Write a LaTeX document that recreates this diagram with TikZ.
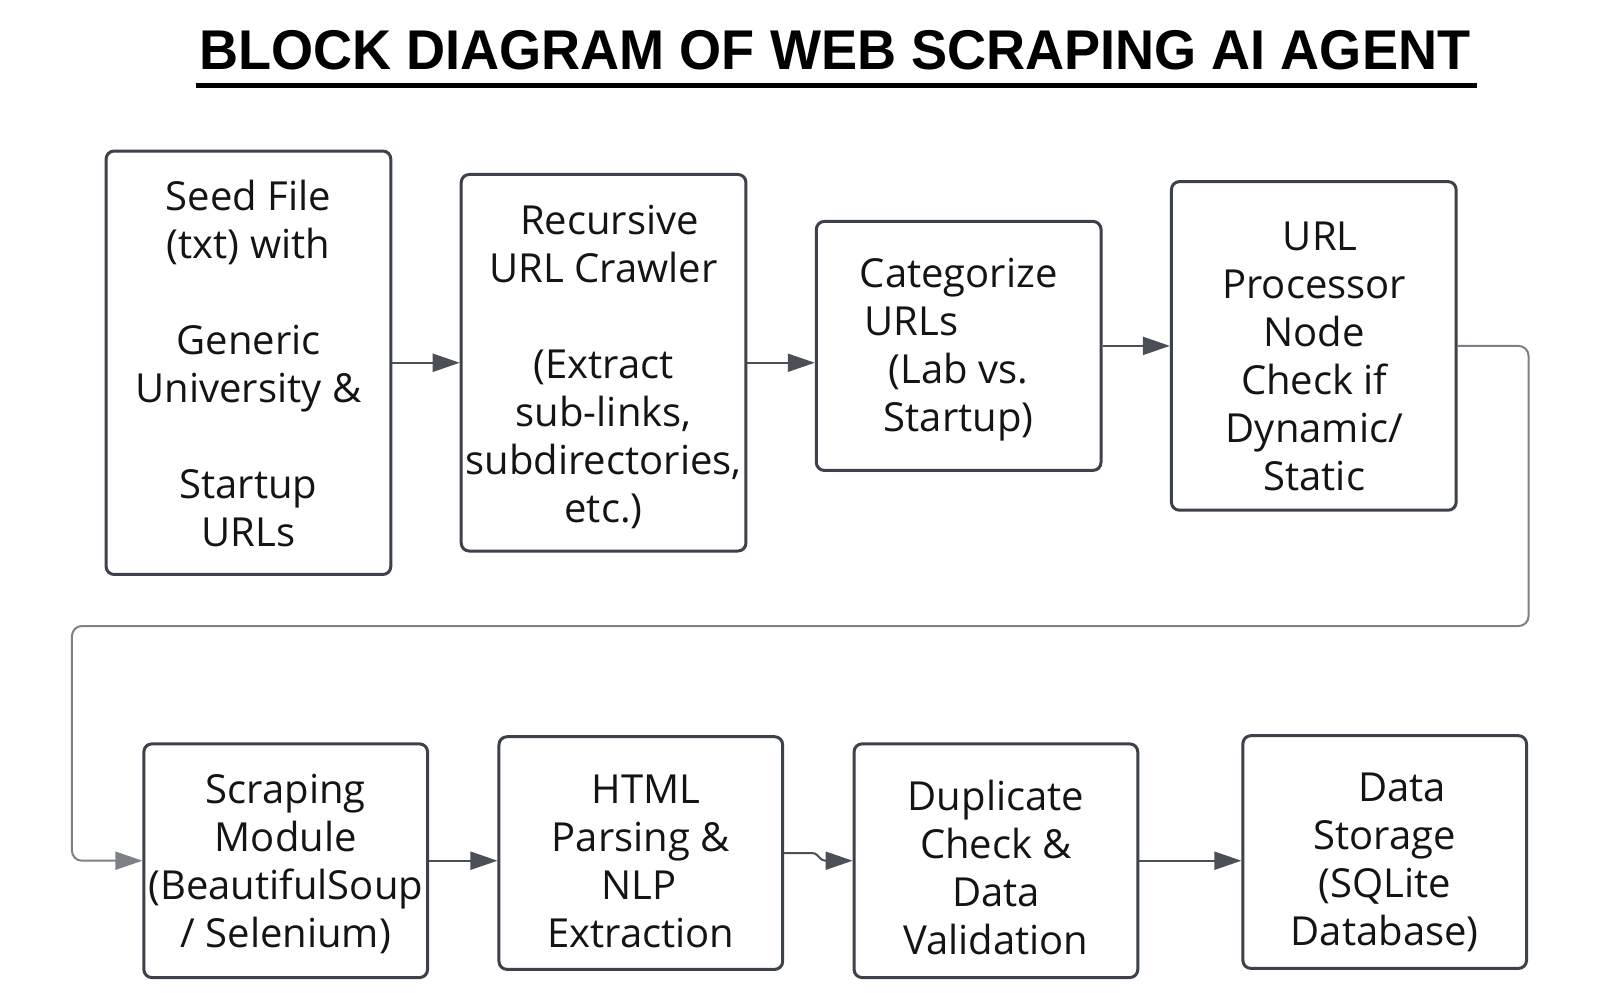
\documentclass[tikz,border=0pt]{standalone}
\usepackage{graphicx}
\usepackage{fontspec}
\setmainfont{Open Sans}
\newfontfamily\titlefont{Liberation Sans}
\usetikzlibrary{arrows.meta}
\definecolor{boxc}{HTML}{3D424A}
\definecolor{arrc}{HTML}{4B5058}
\definecolor{longc}{HTML}{7D8187}
\begin{document}
\begin{tikzpicture}[x=1.0204pt,y=-1.0204pt,
  blk/.style={draw=boxc, line width=3pt, rounded corners=8pt, inner sep=0pt, fill=white},
  sz/.style 2 args={minimum width=1.0204*#1pt, minimum height=1.0204*#2pt},
  txt/.style={font=\fontsize{40}{48}\selectfont, align=center, inner sep=0pt, text=black!92},
  conn/.style={draw=arrc, line width=2pt, -{Triangle[length=27pt,width=18pt]}},
  longconn/.style={draw=longc, line width=2pt, rounded corners=10pt, -{Triangle[length=27pt,width=18pt]}}
]
\useasboundingbox (0,0) rectangle (1568,973.1);
\fill[white] (0,0) rectangle (1568,973.1);

% title
\node[font=\titlefont\bfseries\fontsize{56}{60}\selectfont, anchor=base, inner sep=0pt] (title) at (818,68.6)
  {\scalebox{0.966}[1]{BLOCK DIAGRAM OF WEB SCRAPING AI AGENT}};
\draw[line width=4.5pt, black] (192,83.8) -- (1447,83.8);

% boxes
\node[blk, sz={279}{415}] (b1) at (243.5,355.5) {};
\node[blk, sz={279}{369}] (b2) at (591.5,355.5) {};
\node[blk, sz={279}{244}] (b3) at (939.5,339) {};
\node[blk, sz={279}{322}] (b4) at (1287.5,339) {};
\node[blk, sz={278}{229}] (b5) at (280,843.5) {};
\node[blk, sz={278}{228}] (b6) at (628,836) {};
\node[blk, sz={278}{229}] (b7) at (976,843.5) {};
\node[blk, sz={278}{228}] (b8) at (1357,835) {};

% texts
\node[txt] (t1) at (243.5,356) {Seed File\\(txt) with\\[48pt]Generic\\University \&\\[48pt]Startup\\URLs};
\node[txt] (t2) at (591.5,359.5) {\hspace*{12pt}Recursive\\URL Crawler\\[48pt](Extract\\sub-links,\\subdirectories,\\etc.)};
\node[txt] (t3) at (939.5,343) {Categorize\\URLs\hspace*{94pt}\mbox{}\\(Lab vs.\\Startup)};
\node[txt] (t4) at (1288,349) {\hspace*{12pt}URL\\Processor\\Node\\Check if\\Dynamic/\\Static};
\node[txt] (t5) at (280,847) {Scraping\\Module\\(BeautifulSoup\\/ Selenium)};
\node[txt] (t6) at (628,844) {\hspace*{10pt}HTML\\Parsing \&\\NLP\hspace*{4pt}\mbox{}\\Extraction};
\node[txt] (t7) at (976,850) {Duplicate\\Check \&\\Data\\Validation};
\node[txt] (t8) at (1357,845) {\hspace*{35pt}Data\\Storage\\(SQLite\\Database)};

% connectors
\coordinate (c1) at (1498,613.5);
\coordinate (c2) at (70.5,613.5);
\coordinate (j1) at (799,836);
\coordinate (j2) at (806,843.5);

\draw[conn] (b1.east) -- (b1.east -| b2.west);
\draw[conn] (b2.east) -- (b2.east -| b3.west);
\draw[conn] (b3.east) -- (b4.west);
\draw[longconn] (b4.east) -| (c1) -- (c2) |- (b5.west);
\draw[conn] (b5.east) -- (b5.east -| b6.west);
\draw[conn, rounded corners=3pt] (b6.east) -- (j1) -- (j2) -- (b7.west);
\draw[conn] (b7.east) -- (b7.east -| b8.west);
\end{tikzpicture}
\end{document}
